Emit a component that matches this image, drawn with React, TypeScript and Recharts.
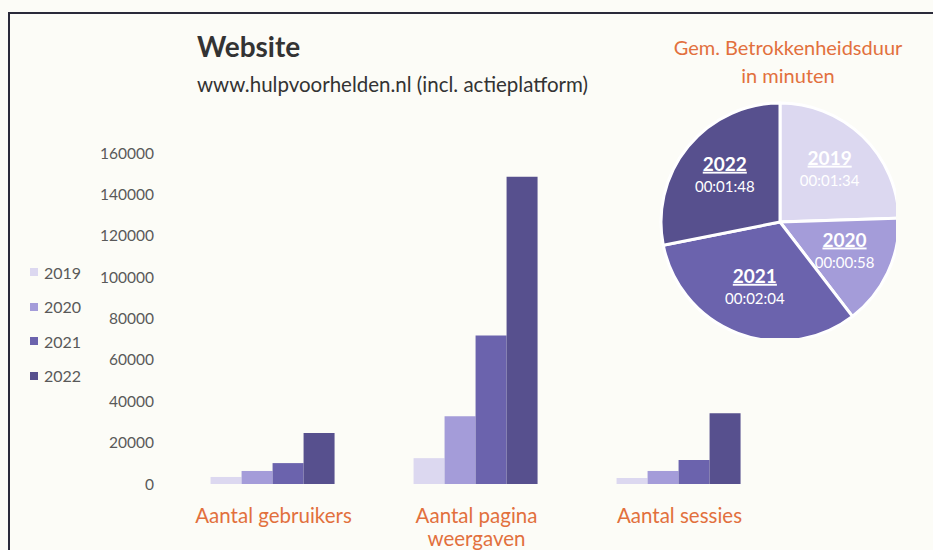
import React from 'react'
import { BarChart, Bar, XAxis, YAxis, PieChart, Pie, Cell } from 'recharts'

const categories = ['Aantal gebruikers', 'Aantal pagina weergaven', 'Aantal sessies']
const years = ['2019', '2020', '2021', '2022']
const values2019 = [3400, 12500, 2900]
const values2020 = [6300, 32800, 6300]
const values2021 = [10100, 71800, 11600]
const values2022 = [24600, 148500, 34200]
const yTicks = [0, 20000, 40000, 60000, 80000, 100000, 120000, 140000, 160000]

// gemiddelde betrokkenheidsduur per jaar
const durationLabels = ['00:01:34', '00:00:58', '00:02:04', '00:01:48']
const durationSeconds = [94, 58, 124, 108]

const colors = ['#dcd8f0', '#a49cd9', '#6b63ad', '#57508e']
const FONT = 'Lato, "Open Sans", sans-serif'
const ORANGE = '#e2703d'

const barData = categories.map((name, i) => ({
  name,
  y2019: values2019[i],
  y2020: values2020[i],
  y2021: values2021[i],
  y2022: values2022[i],
}))

const pieData = years.map((year, i) => ({
  name: year,
  value: durationSeconds[i],
  time: durationLabels[i],
}))

const CategoryTick = ({ x, y, payload }: any) => {
  const text: string = payload.value
  let lines = [text]
  if (text.length > 18) {
    const idx = text.lastIndexOf(' ')
    lines = [text.slice(0, idx), text.slice(idx + 1)]
  }
  return (
    <g>
      {lines.map((l, i) => (
        <text
          key={i}
          x={x}
          y={y + 31 + i * 23}
          textAnchor="middle"
          fill={ORANGE}
          style={{ fontFamily: FONT, fontSize: 20.5 }}
        >
          {l}
        </text>
      ))}
    </g>
  )
}

const RADIAN = Math.PI / 180

const PieLabel = ({ cx, cy, midAngle, outerRadius, payload }: any) => {
  const r = outerRadius * 0.6
  const x = cx + r * Math.cos(-midAngle * RADIAN)
  const y = cy + r * Math.sin(-midAngle * RADIAN)
  const p = payload.payload || payload
  return (
    <g>
      <text
        x={x}
        y={y - 6}
        textAnchor="middle"
        fill="#ffffff"
        style={{ fontFamily: FONT, fontSize: 19, fontWeight: 700, textDecoration: 'underline' }}
      >
        {p.name}
      </text>
      <text
        x={x}
        y={y + 15}
        textAnchor="middle"
        fill="#ffffff"
        style={{ fontFamily: FONT, fontSize: 15 }}
      >
        {p.time}
      </text>
    </g>
  )
}

export default function App() {
  return (
    <div
      style={{
        position: 'absolute',
        left: 0,
        top: 0,
        width: 933,
        height: 550,
        background: '#fcfcf7',
        overflow: 'hidden',
        fontFamily: FONT,
      }}
    >
      {/* frame */}
      <div style={{ position: 'absolute', left: 9, top: 12, width: 924, height: 2, background: '#2a2a3a' }} />
      <div style={{ position: 'absolute', left: 8, top: 12, width: 2, height: 538, background: '#2a2a3a' }} />

      <div style={{ position: 'absolute', left: 197, top: 29, fontSize: 28, fontWeight: 700, color: '#333333' }}>
        Website
      </div>
      <div style={{ position: 'absolute', left: 197, top: 72, fontSize: 20.5, color: '#333333' }}>
        www.hulpvoorhelden.nl (incl. actieplatform)
      </div>
      <div
        style={{
          position: 'absolute',
          left: 638,
          width: 300,
          top: 33,
          textAlign: 'center',
          fontSize: 20,
          lineHeight: '28px',
          color: ORANGE,
        }}
      >
        Gem. Betrokkenheidsduur
        <br />
        in minuten
      </div>

      {/* legend */}
      <div style={{ position: 'absolute', left: 30, top: 255 }}>
        {years.map((y, i) => (
          <div key={y} style={{ display: 'flex', alignItems: 'center', height: 34.5, fontSize: 16, color: '#595959' }}>
            <span style={{ width: 8, height: 8, background: colors[i], marginRight: 6, display: 'inline-block' }} />
            {y}
          </div>
        ))}
      </div>

      <div style={{ position: 'absolute', left: 0, top: 0 }}>
        <BarChart
          width={933}
          height={550}
          data={barData}
          margin={{ top: 153, right: 152, bottom: 36, left: 102 }}
          barCategoryGap="19%"
          barGap={0}
        >
          <XAxis dataKey="name" height={30} axisLine={false} tickLine={false} tick={<CategoryTick />} interval={0} />
          <YAxis
            width={70}
            domain={[0, 160000]}
            ticks={yTicks}
            interval={0}
            axisLine={false}
            tickLine={false}
            tickMargin={12}
            tick={{ fill: '#595959', fontSize: 15.5, fontFamily: FONT }}
          />
          <Bar dataKey="y2019" fill={colors[0]} isAnimationActive={false} />
          <Bar dataKey="y2020" fill={colors[1]} isAnimationActive={false} />
          <Bar dataKey="y2021" fill={colors[2]} isAnimationActive={false} />
          <Bar dataKey="y2022" fill={colors[3]} isAnimationActive={false} />
        </BarChart>
      </div>

      <div style={{ position: 'absolute', left: 654, top: 96 }}>
        <PieChart width={242} height={242}>
          <Pie
            data={pieData}
            dataKey="value"
            cx={121}
            cy={121}
            outerRadius={119}
            startAngle={90}
            endAngle={-270}
            stroke="#ffffff"
            strokeWidth={3}
            labelLine={false}
            label={<PieLabel />}
            isAnimationActive={false}
          >
            {pieData.map((d, i) => (
              <Cell key={d.name} fill={colors[i]} />
            ))}
          </Pie>
        </PieChart>
      </div>
    </div>
  )
}
